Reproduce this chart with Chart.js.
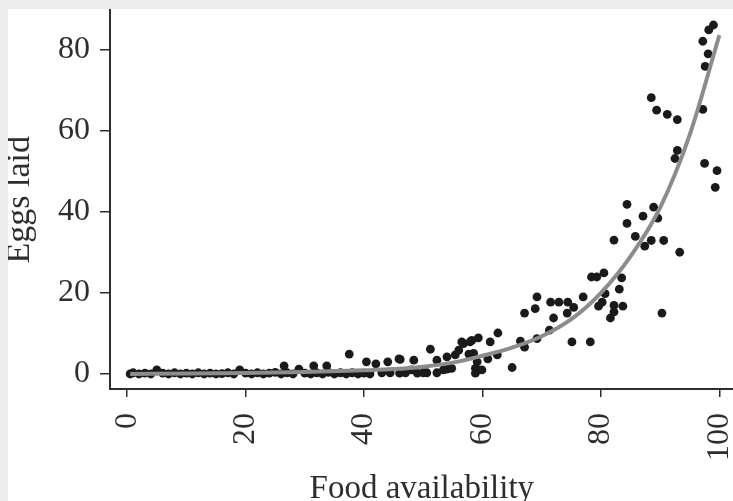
<!DOCTYPE html>
<html>
<head>
<meta charset="utf-8">
<script src="https://cdn.jsdelivr.net/npm/chart.js@4"></script>
<style>
  html, body { margin: 0; padding: 0; background: #ececec; }
  #wrap { position: absolute; left: 8px; top: 9px; width: 725px; height: 492px; background: #fff; overflow: hidden; }
  #chartCanvas { position: absolute; left: 0; top: -3px; }
</style>
</head>
<body>
<div id="wrap"><canvas id="chartCanvas" width="730" height="495"></canvas></div>
<script>
// --- data ---
const foodX = [
  0.5, 1, 2, 3, 4, 5, 6, 7, 8, 9, 10, 11, 12, 13, 14, 15, 16, 17, 18, 19,
  20, 21, 22, 23, 24, 25, 26, 26.5, 27, 28, 29, 30, 31, 31.5, 32, 33, 33.7, 34, 35, 36,
  37, 37.5, 38, 39, 40, 40.4, 41, 42, 43, 44, 44.4, 45.9, 46, 46.1, 47, 48, 48.4, 49, 50, 50.6,
  51.2, 52.3, 52.3, 53.4, 54, 54, 54.8, 55.4, 56, 56.5, 56.8, 57.7, 57.9, 58.2, 58.5, 58.8, 58.8, 59.1, 59.1, 59.3,
  59.9, 60.9, 61.3, 62.5, 62.6, 65, 66.4, 67.1, 67.1, 68.9, 69.2, 69.2, 71.3, 71.5, 72, 72.9, 74.3, 74.4, 75.1, 75.4,
  77, 78.2, 78.4, 79.3, 79.6, 80.2, 80.5, 80.7, 81.6, 82.2, 82.2, 83.1, 83.5, 83.7, 82.2, 84.4, 84.4, 85.8, 87.1, 87.4,
  88.5, 88.9, 89.6, 90.3, 90.6, 93.3, 92.5, 92.9, 88.5, 89.4, 91.2, 92.9, 97.2, 97.5, 99.6, 99.3, 97.6, 98.1, 97.2, 98.2,
  99
];
const eggsLaid = [
  0, 0.3, 0, 0.2, 0, 1, 0.2, 0, 0.3, 0, 0.2, 0, 0.3, 0, 0.2, 0, 0.1, 0.3, 0, 1,
  0.2, 0, 0.3, 0, 0.2, 0.4, 0, 2, 0.3, 0, 1.2, 0.2, 0, 2, 0.3, 0, 2, 0.4, 0, 0.3,
  0, 4.9, 0.3, 0, 0.2, 3, 0, 2.5, 0.3, 3, 0.3, 3.7, 0.2, 3.6, 0.3, 1, 3.4, 0.2, 0.3, 0.3,
  6.1, 3.4, 0.3, 1, 4.2, 1.2, 1.4, 4.7, 5.9, 7.9, 7.5, 4.9, 7.9, 8.3, 5.1, 1.4, 0.2, 3, 1, 8.9,
  1, 3.7, 7.9, 4.7, 10.1, 1.6, 8.1, 6.6, 15, 16.1, 19, 8.7, 10.8, 17.7, 13.8, 17.7, 15, 17.7, 7.9, 16.4,
  19, 7.9, 23.9, 23.9, 16.7, 17.7, 24.9, 19.8, 13.8, 16.9, 15.3, 20.9, 23.7, 16.7, 33, 41.8, 37.1, 33.9, 38.9, 31.5,
  32.9, 41.1, 38.4, 15, 32.9, 30, 53.1, 55.1, 68.1, 65, 64, 62.7, 65.2, 51.9, 50.1, 46, 75.8, 78.9, 82, 84.8,
  86
];

// fitted curve
const curveX = [0.5, 10, 20, 30, 40, 45, 50, 55, 60, 65, 70, 75, 80, 85, 90, 95, 100];
const curveY = [0, 0.1, 0.25, 0.5, 0.9, 1.2, 1.8, 2.8, 4.5, 6.5, 9.3, 13.5, 20, 29, 41, 59, 83.5];

const xTicks = [0, 20, 40, 60, 80, 100];
const yTicks = [0, 20, 40, 60, 80];

const serif = "'Liberation Serif', 'DejaVu Serif', serif";
const ink = "#2e2e2e";

const points = foodX.map((x, i) => ({ x, y: eggsLaid[i] }));
const curve = curveX.map((x, i) => ({ x, y: curveY[i] }));

new Chart(document.getElementById("chartCanvas"), {
  type: "scatter",
  data: {
    datasets: [
      {
        type: "line",
        data: curve,
        borderColor: "#8c8c8c",
        borderWidth: 4,
        pointRadius: 0,
        cubicInterpolationMode: "monotone",
        fill: false
      },
      {
        data: points,
        backgroundColor: "#1a1a1a",
        borderWidth: 0,
        pointRadius: 4.4
      }
    ]
  },
  options: {
    responsive: false,
    animation: false,
    layout: { padding: 0 },
    plugins: { legend: { display: false }, tooltip: { enabled: false } },
    scales: {
      x: {
        type: "linear",
        min: -2.9,
        max: 102.4,
        afterBuildTicks: s => { s.ticks = xTicks.map(v => ({ value: v })); },
        afterFit: s => { s.height = 112; s.paddingLeft = 0; s.paddingRight = 0; },
        grid: { drawOnChartArea: false, drawTicks: true, tickLength: 8, color: ink, lineWidth: 1.5 },
        border: { display: true, color: ink, width: 2 },
        ticks: {
          autoSkip: false, minRotation: 90, maxRotation: 90, padding: 16,
          color: ink, font: { family: serif, size: 32, lineHeight: 1 }
        },
        title: {
          display: true, text: "Food availability", color: ink,
          font: { family: serif, size: 33, lineHeight: 1 }, padding: { top: 0, bottom: -5 }
        }
      },
      y: {
        type: "linear",
        min: -3.7,
        max: 89.6,
        afterBuildTicks: s => { s.ticks = yTicks.map(v => ({ value: v })); },
        afterFit: s => { s.width = 102; s.paddingTop = 0; s.paddingBottom = 0; },
        grid: { drawOnChartArea: false, drawTicks: true, tickLength: 10, color: ink, lineWidth: 1.5 },
        border: { display: true, color: ink, width: 2 },
        ticks: { padding: 10, color: ink, font: { family: serif, size: 32, lineHeight: 1 } },
        title: {
          display: true, text: "Eggs laid", color: ink,
          font: { family: serif, size: 34, lineHeight: 1 }, padding: { top: -5, bottom: 0 }
        }
      }
    }
  }
});
</script>
</body>
</html>
